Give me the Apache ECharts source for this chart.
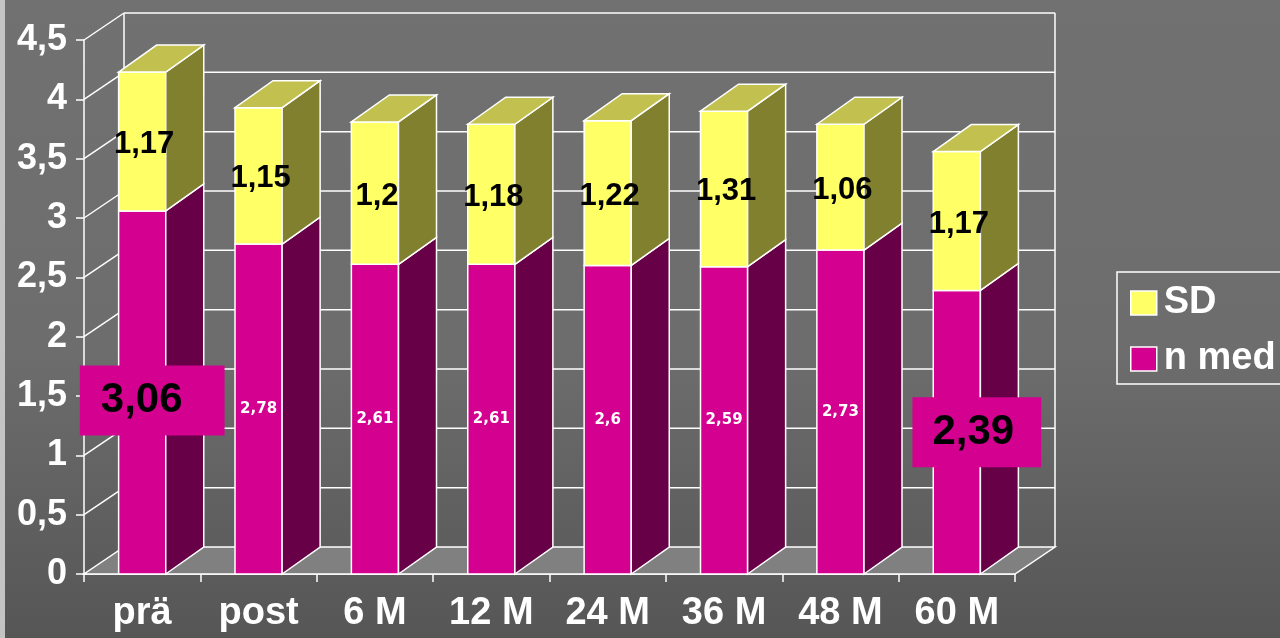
<!DOCTYPE html>
<html>
<head>
<meta charset="utf-8">
<script src="https://cdn.jsdelivr.net/npm/echarts@6/dist/echarts.min.js"></script>
<style>
  html, body { margin: 0; padding: 0; background: #6e6e6e; }
  #chart { width: 1280px; height: 638px; }
</style>
</head>
<body>
<div id="chart"></div>
<script>
// Categories and values
const categories = ['prä', 'post', '6 M', '12 M', '24 M', '36 M', '48 M', '60 M'];
const nMed = [3.06, 2.78, 2.61, 2.61, 2.6, 2.59, 2.73, 2.39];
const sd = [1.17, 1.15, 1.2, 1.18, 1.22, 1.31, 1.06, 1.17];
const yTicks = [0, 0.5, 1, 1.5, 2, 2.5, 3, 3.5, 4, 4.5];
// Categories whose n med value gets a large boxed label
const boxedLabels = ['prä', '60 M'];

const FONT = '"Liberation Sans", Arial, sans-serif';
const WALL_DX = 40, WALL_DY = -27;   // depth of the back wall
const BAR_DX = 38, BAR_DY = -27;     // depth of each bar
const BAR_RATIO = 0.405;

const fmt = v => String(v).replace('.', ',');

const colors = {
  nFront: '#d4008f', nSide: '#670046',
  sdFront: '#ffff66', sdSide: '#80802f', sdTop: '#c2c150',
  floor: '#808080'
};

function wallItem(params, api) {
  const cs = params.coordSys;
  const v = api.value(1);
  const y = api.coord([0, v])[1];
  const x0 = cs.x, x1 = cs.x + cs.width;
  const line = (a, b, c, d) => ({
    type: 'line', shape: { x1: a, y1: b, x2: c, y2: d },
    style: { stroke: '#ffffff', lineWidth: 1.5 }
  });
  const children = [];
  if (params.dataIndex === 0) {
    // floor
    children.push({
      type: 'polygon',
      shape: { points: [[x0, y], [x1, y], [x1 + WALL_DX, y + WALL_DY], [x0 + WALL_DX, y + WALL_DY]] },
      style: { fill: colors.floor, stroke: '#ffffff', lineWidth: 1.5 }
    });
    const yTop = api.coord([0, yTicks[yTicks.length - 1]])[1];
    children.push(line(x0 + WALL_DX, y + WALL_DY, x0 + WALL_DX, yTop + WALL_DY));
    children.push(line(x1 + WALL_DX, y + WALL_DY, x1 + WALL_DX, yTop + WALL_DY));
  } else {
    children.push(line(x0 + WALL_DX, y + WALL_DY, x1 + WALL_DX, y + WALL_DY));
    children.push(line(x0, y, x0 + WALL_DX, y + WALL_DY));
  }
  return { type: 'group', children };
}

function barItem(isSD) {
  return function (params, api) {
    const i = api.value(0);
    const base = api.value(1);
    const h = api.value(2);
    const top = base + h;
    const pb = api.coord([i, base]);
    const pt = api.coord([i, top]);
    const band = api.size([1, 0])[0];
    const w = band * BAR_RATIO;
    const xl = pb[0] - w / 2, xr = pb[0] + w / 2;
    const yb = pb[1], yt = pt[1];
    const edge = { stroke: '#ffffff', lineWidth: 1.5 };
    const children = [
      { type: 'rect', shape: { x: xl, y: yt, width: w, height: yb - yt },
        style: Object.assign({ fill: isSD ? colors.sdFront : colors.nFront }, edge) },
      { type: 'polygon',
        shape: { points: [[xr, yb], [xr + BAR_DX, yb + BAR_DY], [xr + BAR_DX, yt + BAR_DY], [xr, yt]] },
        style: Object.assign({ fill: isSD ? colors.sdSide : colors.nSide }, edge) }
    ];
    if (isSD) {
      children.push({ type: 'polygon',
        shape: { points: [[xl, yt], [xl + BAR_DX, yt + BAR_DY], [xr + BAR_DX, yt + BAR_DY], [xr, yt]] },
        style: Object.assign({ fill: colors.sdTop }, edge) });
      children.push({ type: 'text', x: pb[0] + 2, y: (yb + yt) / 2 + 3,
        style: { text: fmt(h), fill: '#000', font: 'bold 31px ' + FONT, align: 'center', verticalAlign: 'middle' } });
    } else {
      const cat = categories[i];
      if (boxedLabels.includes(cat)) {
        const first = i === 0;
        children.push({ type: 'text', x: pb[0] + (first ? 10 : 20), y: (yb + yt) / 2 + (first ? 8 : 0),
          style: { text: fmt(h), fill: '#000', font: 'bold 42px ' + FONT, align: 'center', verticalAlign: 'middle',
            backgroundColor: colors.nFront,
            padding: first ? [14, 42, 14, 21] : [14, 27, 14, 20] } });
      } else {
        children.push({ type: 'text', x: pb[0], y: (yb + yt) / 2,
          style: { text: fmt(h), fill: '#ffffff', font: 'bold 15px "DejaVu Sans", sans-serif', align: 'center', verticalAlign: 'middle' } });
      }
    }
    return { type: 'group', children };
  };
}

const chart = echarts.init(document.getElementById('chart'));
chart.setOption({
  animation: false,
  backgroundColor: {
    type: 'linear', x: 0, y: 0, x2: 0, y2: 1,
    colorStops: [
      { offset: 0, color: '#717171' },
      { offset: 0.55, color: '#6d6d6d' },
      { offset: 1, color: '#565656' }
    ]
  },
  graphic: [{
    type: 'rect', left: 0, top: 0, shape: { width: 5, height: 638 },
    style: { fill: '#c4c4c4' }, silent: true, z: -10
  }],
  grid: { left: 84, right: 265, top: 40, bottom: 64 },
  legend: {
    data: ['SD', 'n med'],
    orient: 'vertical',
    left: 1117, top: 272,
    padding: [12, 20, 6, 13],
    itemGap: 18,
    itemWidth: 26, itemHeight: 24,
    icon: 'rect',
    borderColor: '#ffffff', borderWidth: 1.5,
    itemStyle: { borderColor: '#ffffff', borderWidth: 1.5 },
    textStyle: { color: '#ffffff', fontFamily: FONT, fontWeight: 'bold', fontSize: 38, lineHeight: 38, padding: [0, 0, 0, 2] }
  },
  xAxis: {
    type: 'category',
    data: categories,
    axisLine: { lineStyle: { color: '#ffffff', width: 1.5 } },
    axisTick: { show: true, length: 8, lineStyle: { color: '#ffffff', width: 1.5 } },
    axisLabel: { color: '#ffffff', fontFamily: FONT, fontWeight: 'bold', fontSize: 38, margin: 21 },
    splitLine: { show: false }
  },
  yAxis: {
    type: 'value',
    min: 0, max: 4.5, interval: 0.5,
    axisLine: { show: true, lineStyle: { color: '#ffffff', width: 1.5 } },
    axisTick: { show: true, length: 8, lineStyle: { color: '#ffffff', width: 1.5 } },
    axisLabel: { color: '#ffffff', fontFamily: FONT, fontWeight: 'bold', fontSize: 36, margin: 17,
      formatter: v => fmt(v) },
    splitLine: { show: false }
  },
  series: [
    {
      type: 'custom', name: 'walls', silent: true, z: 1,
      renderItem: wallItem,
      data: yTicks.map(v => [0, v]),
      encode: { x: 0, y: 1 }
    },
    {
      type: 'custom', name: 'n med', z: 2,
      itemStyle: { color: colors.nFront },
      renderItem: barItem(false),
      data: categories.map((c, i) => [i, 0, nMed[i]]),
      encode: { x: 0, y: [1, 2] }
    },
    {
      type: 'custom', name: 'SD', z: 3,
      itemStyle: { color: colors.sdFront },
      renderItem: barItem(true),
      data: categories.map((c, i) => [i, nMed[i], sd[i]]),
      encode: { x: 0, y: [1, 2] }
    }
  ]
});
</script>
</body>
</html>
